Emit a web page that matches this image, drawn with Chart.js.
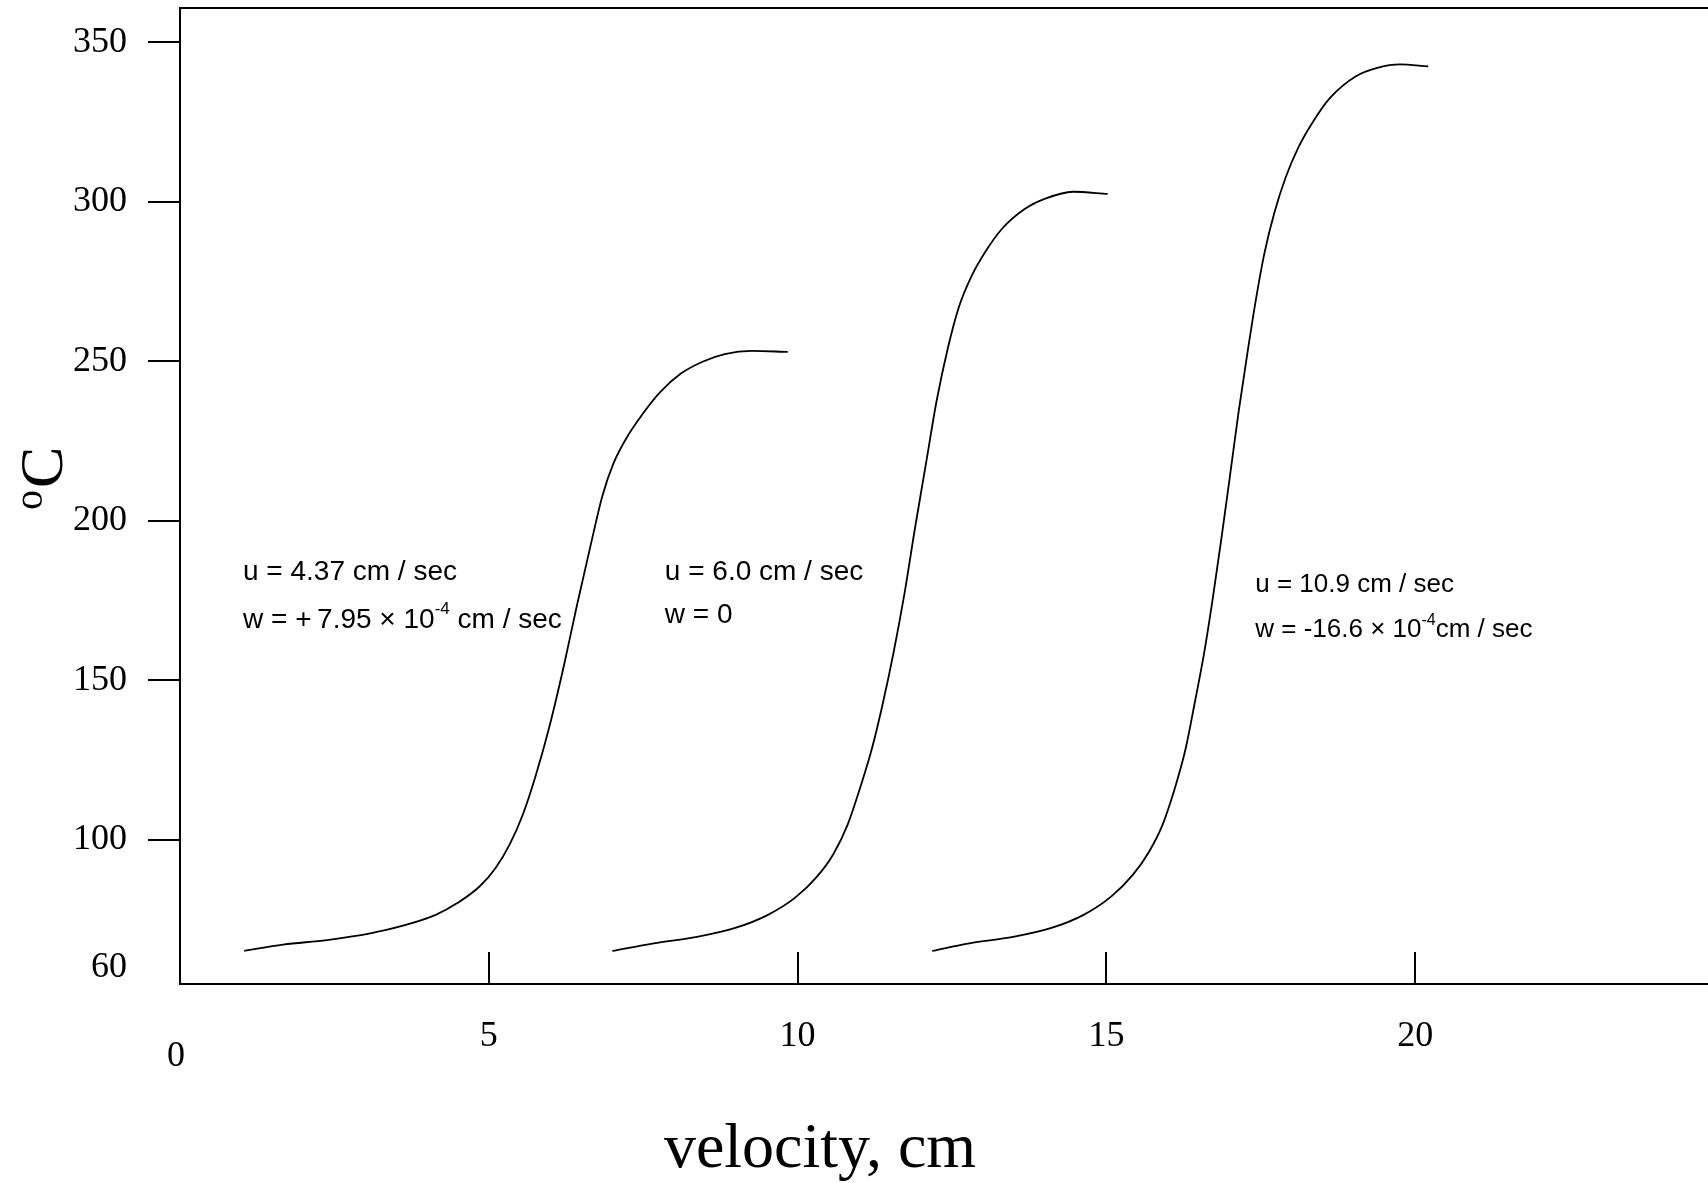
<!DOCTYPE html>
<html>
<head>
<meta charset="utf-8">
<title>velocity chart</title>
<script src="https://cdn.jsdelivr.net/npm/chart.js@4.4.1/dist/chart.umd.min.js"></script>
<style>
  html, body { margin: 0; padding: 0; background: #fff; }
  #wrap { width: 1708px; height: 1183px; position: relative; }
</style>
</head>
<body>
<div id="wrap"><canvas id="chart"></canvas></div>
<script>
// tick labels
const xTickValues = [0, 5, 10, 15, 20];
const yTickValues = [60, 100, 150, 200, 250, 300, 350];

// u = 4.37 cm/sec
const curve1X = [1.04, 1.67, 2.38, 3.08, 3.61, 4.14, 4.49, 4.85, 5.11, 5.34, 5.55, 5.76, 5.99, 6.22, 6.43, 6.65, 6.84, 7.02, 7.23, 7.49, 7.77, 8.11, 8.46, 8.82, 9.26, 9.84];
const curve1Y = [65.2, 67.2, 68.6, 70.7, 73.1, 76.5, 80.2, 85.4, 91.2, 98.7, 107.9, 120.2, 136.2, 155.0, 173.8, 192.5, 207.9, 218.1, 226.0, 233.5, 240.3, 246.2, 249.9, 252.3, 253.3, 253.0];

// u = 6.0 cm/sec
const curve2X = [7.00, 7.67, 8.37, 8.99, 9.52, 9.96, 10.31, 10.58, 10.81, 11.02, 11.20, 11.37, 11.55, 11.73, 11.90, 12.08, 12.25, 12.43, 12.61, 12.82, 13.05, 13.31, 13.67, 14.02, 14.46, 15.02];
const curve2Y = [65.2, 67.6, 69.6, 72.4, 76.5, 81.9, 88.4, 95.6, 104.8, 116.8, 128.4, 142.0, 158.4, 177.2, 197.7, 218.2, 237.6, 254.0, 267.0, 276.9, 284.7, 291.6, 297.7, 301.1, 303.2, 302.5];

// u = 10.9 cm/sec
const curve3X = [12.18, 12.78, 13.49, 14.11, 14.63, 15.08, 15.43, 15.69, 15.91, 16.10, 16.28, 16.43, 16.58, 16.72, 16.86, 17.00, 17.14, 17.28, 17.42, 17.56, 17.72, 17.90, 18.11, 18.34, 18.62, 19.04, 19.40, 19.75, 20.21];
const curve3Y = [65.2, 67.6, 69.6, 72.4, 76.5, 82.3, 89.1, 96.3, 104.8, 115.7, 128.4, 143.0, 158.4, 175.5, 194.3, 214.1, 234.2, 252.3, 269.4, 284.1, 296.7, 307.6, 317.2, 325.0, 332.6, 339.4, 342.1, 343.1, 342.5];

// curve notes, ^{..} marks a superscript
const note1Lines = ['u = 4.37 cm / sec', 'w = +\u20097.95 \u00d7 10^{-4} cm / sec'];
const note2Lines = ['u = 6.0 cm / sec', 'w = 0'];
const note3Lines = ['u = 10.9 cm / sec', 'w = -16.6 \u00d7 10^{-4}cm / sec'];

const xTitle = 'velocity, cm';
const yTitle = ['o', 'C'];

const SERIF = '"Liberation Serif", "Times New Roman", serif';
const SANS = '"Liberation Sans", Arial, sans-serif';

const notes = [
    { x: 1.02, y: 184.0, lines: note1Lines, size: 28, gap: 48 },
    { x: 7.85, y: 184.0, lines: note2Lines, size: 28, gap: 43 },
    { x: 17.41, y: 179.9, lines: note3Lines, size: 26, gap: 45 }
];

function toPoints(xs, ys) {
    return xs.map((x, i) => ({ x: x, y: ys[i] }));
}

function curve(xs, ys) {
    return {
        data: toPoints(xs, ys),
        borderColor: '#000',
        borderWidth: 1.8,
        pointRadius: 0,
        fill: false,
        cubicInterpolationMode: 'monotone'
    };
}

function drawRichLine(ctx, text, x, y, size) {
    const parts = text.split(/\^\{(.*?)\}/);
    let cx = x;
    parts.forEach((part, i) => {
        if (!part) return;
        const sup = i % 2 === 1;
        const fs = sup ? Math.round(size * 0.6) : size;
        ctx.font = fs + 'px ' + SANS;
        ctx.fillText(part, cx, sup ? y - size * 0.38 : y);
        cx += ctx.measureText(part).width;
    });
}

const decorations = {
    id: 'decorations',
    afterDraw(chart) {
        const { ctx, chartArea, scales } = chart;
        const xs = scales.x, ys = scales.y;
        ctx.save();
        ctx.strokeStyle = '#000';
        ctx.fillStyle = '#000';
        ctx.lineWidth = 2;

        // top frame line
        ctx.beginPath();
        ctx.moveTo(chartArea.left, chartArea.top);
        ctx.lineTo(chart.width, chartArea.top);
        ctx.stroke();

        // x ticks point inwards
        ctx.beginPath();
        xTickValues.forEach(v => {
            if (v === 0) return;
            const px = Math.round(xs.getPixelForValue(v));
            ctx.moveTo(px, chartArea.bottom);
            ctx.lineTo(px, chartArea.bottom - 32);
        });
        ctx.stroke();

        ctx.font = '36px ' + SERIF;
        ctx.textAlign = 'center';
        ctx.textBaseline = 'middle';
        xTickValues.forEach(v => {
            const px = xs.getPixelForValue(v);
            ctx.fillText(String(v), px - (v === 0 ? 4 : 0), chartArea.bottom + (v === 0 ? 73 : 53));
        });

        // x title
        ctx.font = '64px ' + SERIF;
        ctx.textBaseline = 'alphabetic';
        ctx.fillText(xTitle, 820, 1167);

        // y title, rotated
        ctx.save();
        ctx.translate(62, 510);
        ctx.rotate(-Math.PI / 2);
        ctx.textAlign = 'left';
        ctx.font = '40px ' + SERIF;
        ctx.fillText(yTitle[0], 0, -20);
        ctx.font = '62px ' + SERIF;
        ctx.fillText(yTitle[1], 22, 0);
        ctx.restore();

        // notes
        ctx.textAlign = 'left';
        ctx.textBaseline = 'middle';
        notes.forEach(n => {
            const px = xs.getPixelForValue(n.x);
            const py = ys.getPixelForValue(n.y);
            n.lines.forEach((line, i) => drawRichLine(ctx, line, px, py + i * n.gap, n.size));
        });
        ctx.restore();
    }
};

const ctx = document.getElementById('chart').getContext('2d');
new Chart(ctx, {
    type: 'line',
    data: {
        datasets: [
            curve(curve1X, curve1Y),
            curve(curve2X, curve2Y),
            curve(curve3X, curve3Y)
        ]
    },
    options: {
        responsive: true,
        maintainAspectRatio: false,
        animation: false,
        layout: { padding: { top: 8, left: 0, right: 0, bottom: 0 } },
        plugins: {
            legend: { display: false },
            tooltip: { enabled: false }
        },
        scales: {
            x: {
                type: 'linear',
                min: 0,
                max: 24.74,
                afterBuildTicks: scale => { scale.ticks = xTickValues.map(v => ({ value: v })); },
                afterFit: scale => { scale.height = 199; },
                ticks: { display: false },
                grid: { display: false },
                border: { display: true, color: '#000', width: 2 }
            },
            y: {
                type: 'linear',
                min: 54.83,
                max: 360.8,
                afterBuildTicks: scale => { scale.ticks = yTickValues.map(v => ({ value: v })); },
                afterFit: scale => {
                    scale.width = 180;
                    scale.paddingTop = 0;
                    scale.paddingBottom = 0;
                },
                ticks: {
                    color: '#000',
                    padding: 21,
                    font: { family: SERIF, size: 36 }
                },
                grid: {
                    drawOnChartArea: false,
                    drawTicks: true,
                    tickLength: 32,
                    lineWidth: 2,
                    color: c => (c.tick && c.tick.value === 60 ? 'rgba(0,0,0,0)' : '#000')
                },
                border: { display: true, color: '#000', width: 2 }
            }
        }
    },
    plugins: [decorations]
});
</script>
</body>
</html>
